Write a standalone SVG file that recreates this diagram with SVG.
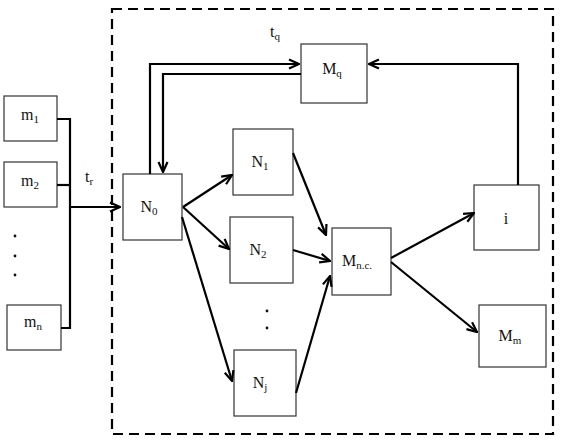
<svg xmlns="http://www.w3.org/2000/svg" width="562" height="446" viewBox="0 0 562 446">
<style>
.box{fill:#fff;stroke:#333;stroke-width:1.2}
.t{font-family:"Liberation Serif","Times New Roman",serif;font-size:16px;fill:#111;text-anchor:middle}
.s{font-size:11px}
.c{fill:none;stroke:#000;stroke-width:2.2}
.a{fill:none;stroke:#000;stroke-width:2.2;marker-end:url(#ah)}
.dash{fill:none;stroke:#000;stroke-width:2.2;stroke-dasharray:10,6}
</style>
<defs>
<marker id="ah" viewBox="0 0 12 12" refX="11" refY="6" markerWidth="12" markerHeight="12" markerUnits="userSpaceOnUse" orient="auto">
<path d="M1,1.5 L11,6 L1,10.5" fill="none" stroke="#000" stroke-width="2.2"/>
</marker>
</defs>
<rect class="dash" x="112" y="9" width="441" height="425"/>
<g id="m1"><rect class="box" x="4" y="96" width="53" height="45"/><text class="t" x="30" y="120">m<tspan class="s" dy="3">1</tspan></text></g>
<g id="m2"><rect class="box" x="4" y="162" width="53" height="45"/><text class="t" x="30" y="186">m<tspan class="s" dy="3">2</tspan></text></g>
<g id="mn"><rect class="box" x="7" y="305" width="54" height="45"/><text class="t" x="33" y="327">m<tspan class="s" dy="3">n</tspan></text></g>
<g id="mdots" fill="#111"><circle cx="15" cy="236" r="1.4"/><circle cx="15" cy="256" r="1.4"/><circle cx="15" cy="275" r="1.4"/></g>
<g id="N0"><rect class="box" x="123" y="174" width="59" height="66"/><text class="t" x="149" y="212">N<tspan class="s" dy="3">0</tspan></text></g>
<g id="Mq"><rect class="box" x="301" y="44" width="66" height="59"/><text class="t" x="332" y="74">M<tspan class="s" dy="3">q</tspan></text></g>
<g id="N1"><rect class="box" x="233" y="129" width="60" height="66"/><text class="t" x="260" y="167">N<tspan class="s" dy="3">1</tspan></text></g>
<g id="N2"><rect class="box" x="230" y="217" width="63" height="66"/><text class="t" x="258" y="255">N<tspan class="s" dy="3">2</tspan></text></g>
<g id="Nj"><rect class="box" x="234" y="350" width="62" height="66"/><text class="t" x="260" y="388">N<tspan class="s" dy="3">j</tspan></text></g>
<g id="Ndots" fill="#111"><circle cx="267" cy="311" r="1.4"/><circle cx="267" cy="328" r="1.4"/></g>
<g id="Mnc"><rect class="box" x="332" y="228" width="59" height="67"/><text class="t" x="357" y="266">M<tspan class="s" dy="3">n.c.</tspan></text></g>
<g id="i"><rect class="box" x="474" y="185" width="65" height="65"/><text class="t" x="506" y="224">i</text></g>
<g id="Mm"><rect class="box" x="479" y="305" width="67" height="62"/><text class="t" x="510" y="341">M<tspan class="s" dy="3">m</tspan></text></g>
<g id="labels">
<text class="t" x="89" y="182">t<tspan class="s" dy="3">r</tspan></text>
<text class="t" x="275" y="37">t<tspan class="s" dy="3">q</tspan></text>
</g>
<g id="connectors">
<path class="c" d="M57,119 H70 V328 H61"/>
<path class="c" d="M57,185 H70"/>
<path class="a" d="M70,207 H120"/>
<path class="a" d="M150,174 V64 H299"/>
<path class="a" d="M301,74 H163 V172"/>
<path class="a" d="M518,185 V64 H369"/>
<path class="a" d="M183,207 L232,175"/>
<path class="a" d="M183,207 L229,249"/>
<path class="a" d="M182,217 L232,381"/>
<path class="a" d="M293,153 L326,235"/>
<path class="a" d="M293,250 L330,261"/>
<path class="a" d="M296,393 L330,276"/>
<path class="a" d="M391,258 L474,213"/>
<path class="a" d="M391,262 L477,332"/>
</g>
</svg>
